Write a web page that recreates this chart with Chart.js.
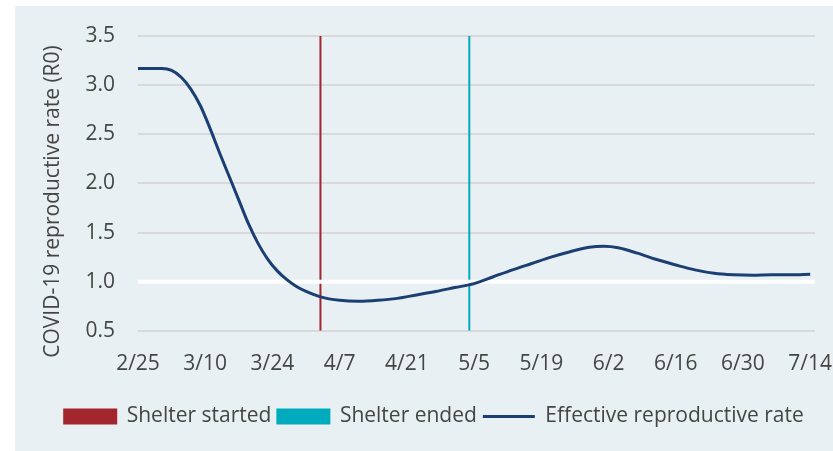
<!DOCTYPE html>
<html>
<head>
<meta charset="utf-8">
<script src="https://cdn.jsdelivr.net/npm/chart.js@4.4.1/dist/chart.umd.min.js"></script>
<style>
  body { margin: 0; background: #fff; }
  #panel { position: absolute; left: 15px; top: 6px; width: 818px; height: 445px; background: #e8f0f3; }
</style>
</head>
<body>
<div id="panel"><canvas id="line-chart" width="818" height="445"></canvas></div>
<script>
// days counted from 2/25
const tickLabels = ["2/25", "3/10", "3/24", "4/7", "4/21", "5/5", "5/19", "6/2", "6/16", "6/30", "7/14"];
const days = [0, 3, 5, 7, 9, 11, 13, 15, 17, 19, 21, 23, 25, 27, 29, 31, 33, 35, 38, 42, 46, 50, 54, 58, 62, 66, 70, 74, 78, 82, 86, 90, 94, 97, 100, 104, 108, 112, 116, 120, 124, 128, 132, 136, 140];
const rate = [3.17, 3.17, 3.17, 3.15, 3.08, 2.96, 2.79, 2.56, 2.31, 2.07, 1.83, 1.59, 1.39, 1.23, 1.11, 1.02, 0.95, 0.90, 0.845, 0.81, 0.80, 0.81, 0.83, 0.865, 0.90, 0.94, 0.98, 1.05, 1.12, 1.185, 1.25, 1.305, 1.35, 1.36, 1.345, 1.29, 1.225, 1.17, 1.12, 1.085, 1.07, 1.065, 1.07, 1.07, 1.075];
const shelterStartDay = 38; // 4/3
const shelterEndDay = 69;   // 5/4
const yMin = 0.5, yMax = 3.5;
const yTitle = "COVID-19 reproductive rate (R0)";

const font = { family: "'Open Sans', sans-serif", size: 21 };
const textColor = "#454545";

// Excel centres the axis title on the whole axis, labels included, so draw it here
const yTitlePlugin = {
  id: "yTitle",
  afterDraw(chart) {
    const ctx = chart.ctx;
    ctx.save();
    ctx.translate(38.5, 195.5);
    ctx.rotate(-Math.PI / 2);
    ctx.font = "21px 'Open Sans', sans-serif";
    ctx.fillStyle = textColor;
    ctx.textAlign = "center";
    ctx.textBaseline = "middle";
    ctx.fillText(yTitle, 0, 0);
    ctx.restore();
  }
};

new Chart(document.getElementById("line-chart"), {
  type: "line",
  data: {
    datasets: [
      {
        label: "Shelter started",
        data: [{ x: shelterStartDay, y: yMin }, { x: shelterStartDay, y: yMax }],
        borderColor: "#a3252d",
        backgroundColor: "#a3252d",
        borderWidth: 2,
        pointRadius: 0,
        pointStyle: "rect",
        order: 2
      },
      {
        label: "Shelter ended",
        data: [{ x: shelterEndDay, y: yMin }, { x: shelterEndDay, y: yMax }],
        borderColor: "#00abbd",
        backgroundColor: "#00abbd",
        borderWidth: 2,
        pointRadius: 0,
        pointStyle: "rect",
        order: 2
      },
      {
        label: "Effective reproductive rate",
        data: days.map((d, i) => ({ x: d, y: rate[i] })),
        borderColor: "#1b3f72",
        backgroundColor: "#1b3f72",
        borderWidth: 3,
        pointRadius: 0,
        pointStyle: "line",
        cubicInterpolationMode: "monotone",
        order: 0
      },
      {
        label: "one",
        data: [{ x: 0, y: 1 }, { x: 141, y: 1 }],
        borderColor: "#ffffff",
        borderWidth: 4,
        pointRadius: 0,
        order: 1
      }
    ]
  },
  plugins: [yTitlePlugin],
  options: {
    responsive: false,
    animation: false,
    layout: { padding: { left: 20, right: 0, top: 30, bottom: 14 } },
    plugins: {
      tooltip: { enabled: false },
      legend: {
        position: "bottom",
        labels: {
          font: font,
          color: textColor,
          usePointStyle: true,
          pointStyleWidth: 52,
          boxHeight: 14,
          padding: 6,
          filter: (item) => item.text !== "one",
          sort: (a, b) => a.datasetIndex - b.datasetIndex
        }
      }
    },
    scales: {
      x: {
        type: "linear",
        min: 0,
        max: 141,
        afterFit: (scale) => { scale.paddingLeft = 0; scale.paddingRight = 18; scale.height += 2; },
        border: { display: false },
        grid: { display: false, drawTicks: false },
        ticks: {
          stepSize: 14,
          includeBounds: false,
          autoSkip: false,
          maxRotation: 0,
          padding: 21,
          font: font,
          color: textColor,
          callback: (v) => tickLabels[v / 14]
        }
      },
      y: {
        min: yMin,
        max: yMax,
        afterFit: (scale) => { scale.width = 103; scale.paddingTop = 0; scale.paddingBottom = 0; },
        border: { display: false },
        grid: { color: "#d9d9d9", lineWidth: 2, drawTicks: false },
        ticks: {
          stepSize: 0.5,
          padding: 23,
          font: font,
          color: textColor,
          callback: (v) => v.toFixed(1)
        }
      }
    }
  }
});
</script>
</body>
</html>
